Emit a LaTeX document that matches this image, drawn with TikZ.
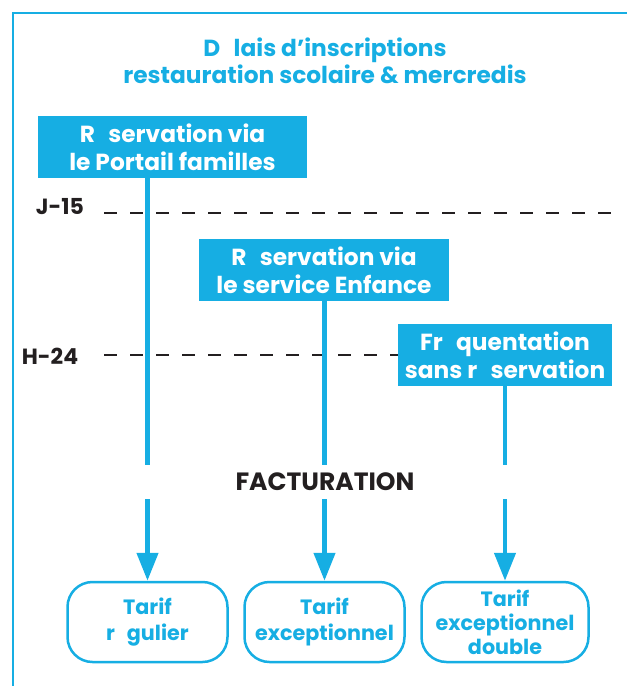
\documentclass[tikz,border=0pt]{standalone}
\usepackage{fontspec}
\setmainfont{Poppins}
\usetikzlibrary{arrows.meta}
\definecolor{enfcyan}{HTML}{16AEE3}
\definecolor{enfink}{HTML}{231F20}
\tikzstyle{frame} = [draw=enfcyan,line width=2.2pt]
\tikzstyle{title} = [text=enfcyan,font=\bfseries\fontsize{23.3}{27}\selectfont,inner sep=0]
\tikzstyle{resa} = [fill=enfcyan,text=white,align=center,inner sep=0,minimum height=62pt,font=\bfseries\fontsize{23.3}{28}\selectfont]
\tikzstyle{tarif} = [draw=enfcyan,line width=2.5pt,rounded corners=25pt,fill=white,text=enfcyan,align=center,inner sep=0,minimum width=160pt,minimum height=80pt,font=\bfseries\fontsize{20.7}{26}\selectfont]
\tikzstyle{delay} = [text=enfink,font=\bfseries\fontsize{22}{22}\selectfont,inner sep=0]
\tikzstyle{limit} = [draw=enfink,line width=2.6pt,dash pattern=on 13pt off 13pt]
\tikzstyle{link} = [draw=enfcyan,line width=4.5pt]
\tikzstyle{billing} = [link,-{Triangle[length=28pt,width=21pt]}]
\def \gap {\ \kern.15em\ }

\begin{document}
\begin{tikzpicture}[x=1pt,y=-1pt]
      \useasboundingbox (0,0) rectangle (627,686);
      \draw[frame] (13,690) -- (13,13) -- (630,13);
      % titre
      \node[title,anchor=base] (titleTop) at (325,56) {D\gap lais d'inscriptions};
      \node[title,anchor=base] (titleBottom) at (325,83) {restauration scolaire \& mercredis};
      % reservations
      \node[resa,minimum width=269pt] (resaPortail) at (172.5,147) {R\gap servation via\\le Portail familles};
      \node[resa,minimum width=250pt] (resaEnfance) at (324,270) {R\gap servation via\\le service Enfance};
      \node[resa,minimum width=214pt] (frequent) at (505,355) {Fr\gap quentation\\sans r\gap servation};
      % delais
      \node[delay] (j15) at (60,207) {J-15};
      \node[delay] (h24) at (50,356) {H-24};
      \coordinate (j15start) at (104,213);
      \coordinate (j15end) at (612,213);
      \coordinate (h24start) at (104,355);
      \draw[limit] (j15start) -- (j15end);
      \draw[limit] (h24start) -- (frequent.west);
      % facturation
      \node[delay,minimum height=34pt,font=\bfseries\fontsize{25}{25}\selectfont] (fact) at (325,482) {FACTURATION};
      \node[tarif] (tarifReg) at (147.5,622) {Tarif\\r\gap gulier};
      \node[tarif] (tarifExc) at (324.5,622) {Tarif\\exceptionnel};
      \node[tarif,minimum width=167pt,font=\bfseries\fontsize{20.7}{24}\selectfont] (tarifDbl) at (505,622) {Tarif\\exceptionnel\\double};
      \draw[link] (resaPortail.south -| tarifReg) -- (fact.north -| tarifReg);
      \draw[billing] (fact.south -| tarifReg) -- (tarifReg.north);
      \draw[link] (resaEnfance.south -| tarifExc) -- (fact.north -| tarifExc);
      \draw[billing] (fact.south -| tarifExc) -- (tarifExc.north);
      \draw[link] (frequent.south -| tarifDbl) -- (fact.north -| tarifDbl);
      \draw[billing] (fact.south -| tarifDbl) -- (tarifDbl.north);
    \end{tikzpicture}
\end{document}
